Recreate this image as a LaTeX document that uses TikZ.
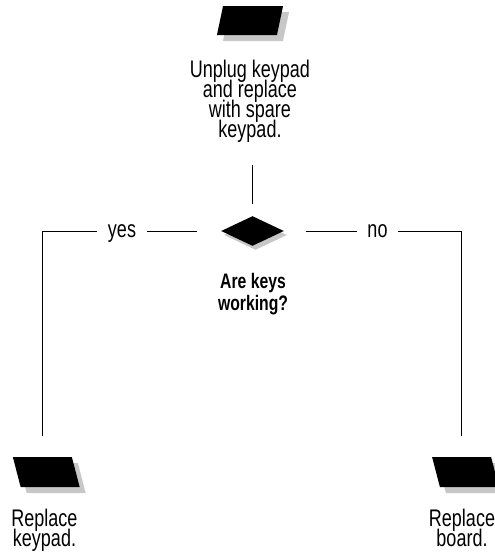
\documentclass[tikz,border=0pt]{standalone}
\usepackage{fontspec}
\setmainfont[FakeStretch=0.75]{Liberation Sans}
\usetikzlibrary{shapes.geometric,shadows}

\begin{document}
\begin{tikzpicture}[x=1pt,y=-1pt,line width=1pt,
    stepbox/.style={rectangle,fill=black,inner sep=0pt,transform shape,
      minimum width=60pt,minimum height=29pt,
      drop shadow={shadow xshift=6pt,shadow yshift=-6pt,fill=black!22,opacity=1}},
    lean right/.style={xslant=0.21},
    lean left/.style={xslant=-0.26,minimum width=59pt,minimum height=30pt},
    testbox/.style={diamond,fill=black,inner sep=0pt,
      minimum width=63pt,minimum height=30pt,
      drop shadow={shadow xshift=3pt,shadow yshift=-4pt,fill=black!22,opacity=1}},
    note/.style={align=center,inner sep=0pt,
      font={\fontsize{24}{20}\selectfont\lineskiplimit-20pt\relax}},
    question/.style={align=center,inner sep=0pt,
      font={\fontsize{21}{22}\selectfont\lineskiplimit-20pt\relax\bfseries}},
    answer/.style={inner xsep=10pt,inner ysep=0pt,font=\fontsize{24}{20}\selectfont}]

  \useasboundingbox (0,0) rectangle (495,554);

  % first step (text nodes sit on the baseline of their last line)
  \node[stepbox,lean right] (unplug) at (250,20.5) {};
  \node[note,anchor=base] (unplugtext) at (250,137)
  {Unplug keypad\\and replace\\with spare\\keypad.};

  % the test
  \node[testbox] (test) at (252.5,231) {};
  \node[question,anchor=base] (testtext) at (253,310) {Are keys\\working?};

  \node[answer,anchor=base] (yes) at (122,237.5) {yes};
  \node[answer,anchor=base] (no) at (377.5,237.5) {no};

  % outcomes
  \node[stepbox,lean left] (keypad) at (46.25,472) {};
  \node[note,anchor=base] (keypadtext) at (44.5,546) {Replace\\keypad.};

  \node[stepbox,lean left] (board) at (465.5,472) {};
  \node[note,anchor=base] (boardtext) at (462,546) {Replace\\board.};

  % connectors
  \draw[shorten <=23pt,shorten >=12pt] (test.north |- unplugtext.south) -- (test.north);

  \draw[shorten <=24pt] (test.west) -- (test.west -| yes.east);
  \draw[shorten >=21pt] (test.west -| yes.west) -| (keypad.north);

  \draw[shorten <=21pt] (test.east) -- (test.east -| no.west);
  \draw[shorten >=21pt] (test.east -| no.east) -| (board.north);

\end{tikzpicture}
\end{document}
